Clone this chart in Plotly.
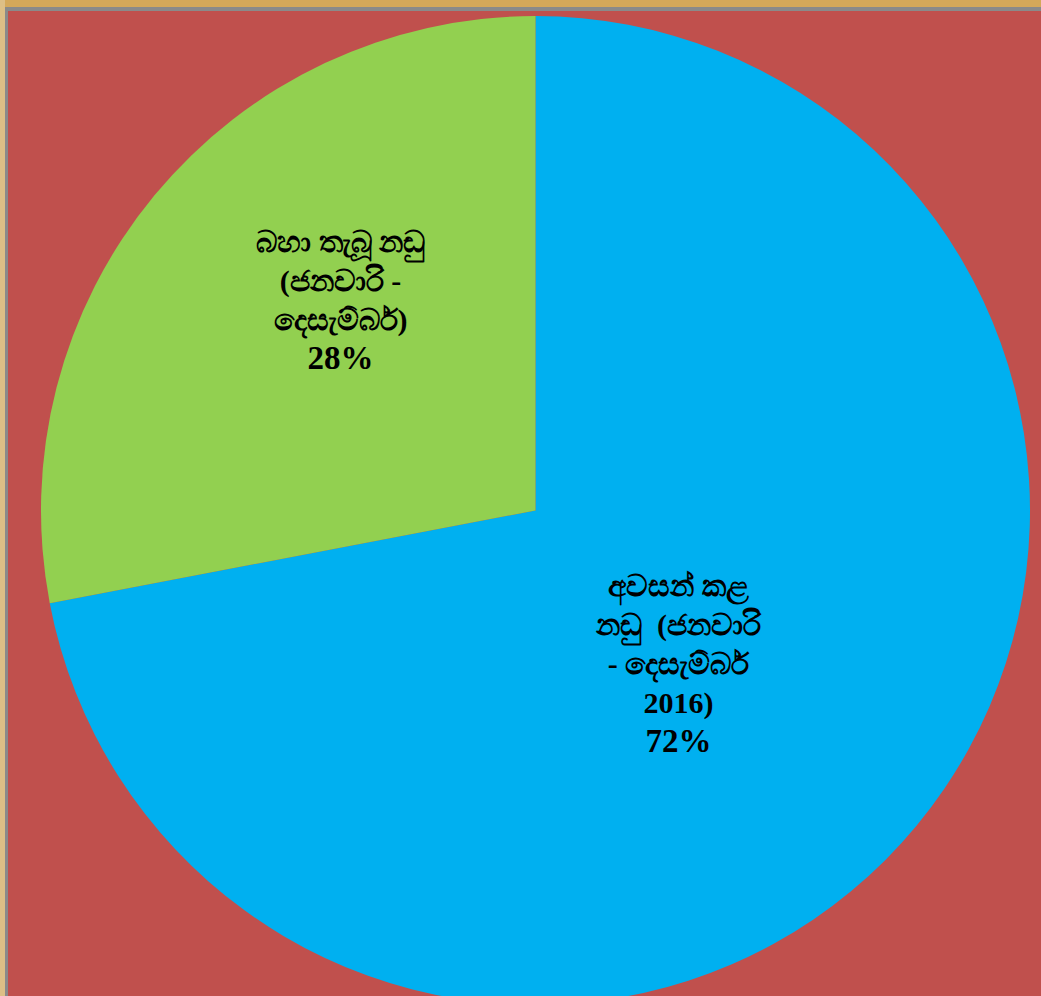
import plotly.graph_objects as go

# Case status split (Sinhala labels, as in the source chart)
labels = [
    "අවසන් කළ<br>නඩු  (ජනවාරි<br>- දෙසැම්බර්<br>2016)",
    "බහා තැබූ නඩු<br>(ජනවාරි -<br>දෙසැම්බර්)",
]
values = [72, 28]
colors = ["#00B0F0", "#92D050"]

W, H = 1041, 1010
# plot area (pixels) chosen so the pie sits like the original
L, R, T, B = 41, 11, 16, 5
PW = W - L - R
PH = H - T - B


def px_x(x):
    return (x - L) / PW


def px_y(y):
    return (H - B - y) / PH


fig = go.Figure(go.Pie(
    labels=labels,
    values=values,
    marker=dict(colors=colors, line=dict(width=0)),
    sort=False,
    direction="clockwise",
    rotation=0,
    textinfo="none",
    hoverinfo="label+percent",
    showlegend=False,
))

# data labels placed like the original
total = sum(values)
label_pos = [(678, 664), (340, 300)]
for lab, val, (lx, ly) in zip(labels, values, label_pos):
    pct = round(100 * val / total)
    fig.add_annotation(
        x=px_x(lx), y=px_y(ly), xref="paper", yref="paper",
        xanchor="center", yanchor="middle",
        text=f"<b>{lab}<br><span style='font-size:33px'>{pct}%</span></b>",
        showarrow=False, align="center",
        font=dict(family="Liberation Serif, Times New Roman, serif", size=30, color="black"),
    )

# frame around the chart area
frame = [
    (0, 0, W, 7, "#D4A85A"),
    (0, 0, 5, H, "#DDBF86"),
    (5, 7, W, 11, "#8A8A8A"),
    (5, 7, 8, H, "#8A8A8A"),
]
for x0, y0, x1, y1, c in frame:
    fig.add_shape(type="rect", xref="paper", yref="paper",
                  x0=px_x(x0), x1=px_x(x1), y0=px_y(y0), y1=px_y(y1),
                  fillcolor=c, line=dict(width=0), layer="below")

fig.update_layout(
    width=W, height=H,
    margin=dict(l=L, r=R, t=T, b=B, pad=0),
    paper_bgcolor="#C0504D",
    plot_bgcolor="#C0504D",
)

fig.write_html(
    "out.html",
    config={"displayModeBar": False},
    post_script="document.body.style.margin='0';document.body.style.overflow='hidden';",
)
